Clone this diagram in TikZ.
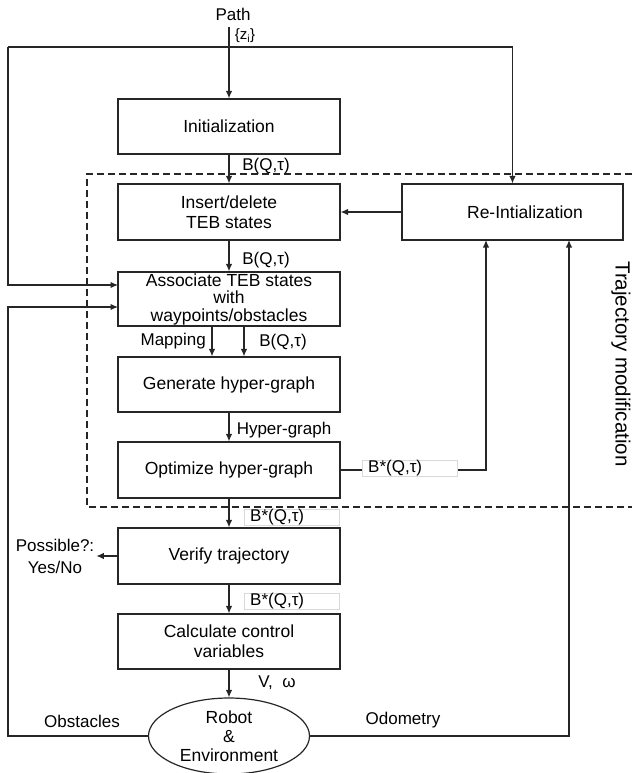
\documentclass[tikz,border=0pt]{standalone}
\usepackage{fontspec}
\setmainfont{Liberation Sans}
\usetikzlibrary{arrows.meta,shapes.geometric,calc}
\begin{document}
\begin{tikzpicture}[x=1pt,y=-1pt,
 box/.style={draw=black!85, line width=1.2pt, align=center, font=\fontsize{17.5}{20}\selectfont, inner sep=0, minimum width=222, minimum height=55},
 lbl/.style={font=\fontsize{17}{19}\selectfont, inner sep=0},
 conn/.style={draw=black!85, line width=1.2pt, -{Latex[length=7.5pt,width=6.5pt]}},
 lbox/.style={draw=black!15, fill=white, line width=1pt, inner sep=0, minimum width=95, minimum height=16, anchor=north west},
]
\useasboundingbox (0,0) rectangle (632,773);

% dashed frame
\draw[black!85, line width=1.1pt, dash pattern=on 7pt off 4pt] (632,174) -- (87,174) -- (87,507) -- (632,507);
\node[lbl, rotate=-90, font=\fontsize{20.5}{22}\selectfont] (traj) at (621,364) {Trajectory modification};

% boxes
\node[box] (init) at (229,126.5) {Initialization};
\node[box, minimum height=56] (insert) at (229,212) {Insert/delete\\TEB states};
\node[box, minimum height=54, font=\fontsize{17.5}{17.5}\selectfont] (assoc) at (229,299) {Associate TEB states\\with\\waypoints/obstacles};
\node[box] (gen) at (229,384.5) {Generate hyper-graph};
\node[box, minimum height=56] (opt) at (229,470) {Optimize hyper-graph};
\node[box, minimum height=56] (verify) at (229,556) {Verify trajectory};
\node[box] (calc) at (229,641.5) {Calculate control\\variables};
\node[box, minimum width=221, minimum height=56] (reinit) at (512.5,212) {\hspace*{25pt}Re-Intialization};
\node[draw=black!85, line width=1.2pt, ellipse, minimum width=161, minimum height=76, inner sep=0, align=center, font=\fontsize{17.5}{19}\selectfont] (robot) at (229,736) {Robot\\\&\\Environment};

% top labels
\node[lbl] (path) at (233,14) {Path};
\node[lbl, font=\fontsize{15}{17}\selectfont] (zi) at (245,36) {\{z\textsubscript{i}\}};
\coordinate (p0) at (229,27);
\draw[conn] (p0) -- (init);

% main chain
\draw[conn] (init) -- (insert);
\node[lbl] (l1) at (266,166) {B(Q,τ)};
\draw[conn] (insert) -- (assoc);
\node[lbl] (l2) at (266,260) {B(Q,τ)};
\draw[conn] ($(assoc.south)+(-17,0)$) -- ($(gen.north)+(-17,0)$);
\draw[conn] ($(assoc.south)+(15,0)$) -- ($(gen.north)+(15,0)$);
\node[lbl, anchor=east] (map) at (206,341) {Mapping};
\node[lbl] (l3) at (283,342) {B(Q,τ)};
\draw[conn] (gen) -- (opt);
\node[lbl] (hg) at (284,430) {Hyper-graph};
\draw[conn] (opt) -- (verify);
\node[lbox] (bs1) at (244,509) {};
\node[lbl, anchor=west] (bs1t) at ($(bs1.west)+(6,0)$) {B*(Q,τ)};
\draw[conn] (verify) -- (calc);
\node[lbox] (bs2) at (244,593) {};
\node[lbl, anchor=west] (bs2t) at ($(bs2.west)+(6,0)$) {B*(Q,τ)};
\draw[conn] (calc) -- (robot);
\node[lbl] (vw) at (277,683) {V,\ \ ω};

% verify output
\node[lbl, align=center, font=\fontsize{17}{22}\selectfont] (possible) at (55,556) {Possible?:\\Yes/No};
\draw[conn] (verify.west) -- ($(verify.west)+(-21,0)$);

% re-init
\draw[conn] (reinit.west) -- (insert.east);
\coordinate (topL) at (8,47);
\coordinate (topR) at (512.5,47);
\coordinate (in1) at (118,285);
\coordinate (in2) at (118,307);
\coordinate (botL) at (8,307);
\draw[conn] (topL) -- (topR) -- (reinit.north);
\draw[conn] (topL) |- (in1);
\draw[conn] (robot.west) -| (botL) -- (in2);
\coordinate (rs1) at (486,240);
\coordinate (rs2) at (569,240);
\draw[conn] (opt.east) -| (rs1);
\draw[conn] (robot.east) -| (rs2);
\node[lbox] (bs3) at (362,460) {};
\node[lbl, anchor=west] (bs3t) at ($(bs3.west)+(6,0)$) {B*(Q,τ)};
\node[lbl] (obst) at (82,721) {Obstacles};
\node[lbl] (odo) at (403,720) {Odometry};
\end{tikzpicture}
\end{document}
